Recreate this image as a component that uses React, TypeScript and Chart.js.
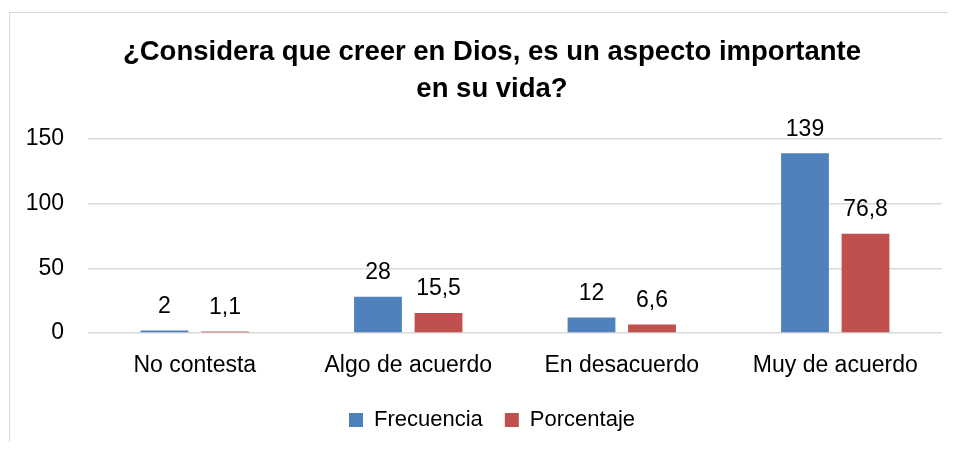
import React, { useEffect, useRef } from "react";
import { Chart, registerables } from "chart.js";

Chart.register(...registerables);

const titleLines = ["¿Considera que creer en Dios, es un aspecto importante", "en su vida?"];
const categories = ["No contesta", "Algo de acuerdo", "En desacuerdo", "Muy de acuerdo"];
const frecuencia = [2, 28, 12, 139];
const porcentaje = [1.1, 15.5, 6.6, 76.8];
const seriesNames = ["Frecuencia", "Porcentaje"];
const yMin = 0;
const yMax = 150;
const yStep = 50;

const BODY_FONT = '"Liberation Sans", Arial, sans-serif';
const TICK_SIZE = 23;

function textWidth(text: string, font: string) {
  const c = document.createElement("canvas").getContext("2d");
  if (!c) return 0;
  c.font = font;
  return c.measureText(text).width;
}

const valueLabels = {
  id: "valueLabels",
  afterDatasetsDraw(chart: any) {
    const ctx = chart.ctx;
    ctx.save();
    ctx.font = `${TICK_SIZE}px ${BODY_FONT}`;
    ctx.fillStyle = "#000";
    ctx.textAlign = "center";
    ctx.textBaseline = "alphabetic";
    chart.data.datasets.forEach((ds: any, i: number) => {
      const meta = chart.getDatasetMeta(i);
      meta.data.forEach((el: any, j: number) => {
        const v = ds.data[j];
        ctx.fillText(String(v).replace(".", ","), el.x, el.y - 17.5);
      });
    });
    ctx.restore();
  },
};

export default function App() {
  const ref = useRef<HTMLCanvasElement | null>(null);
  useEffect(() => {
    if (!ref.current) return;
    const yLabelFont = `normal normal ${TICK_SIZE}px ${BODY_FONT}`;
    const widestY = Math.max(
      ...[yMin, yMin + yStep, yMin + 2 * yStep, yMax].map((v) => textWidth(String(v), yLabelFont))
    );
    const chart = new Chart(ref.current, {
      type: "bar",
      data: {
        labels: categories,
        datasets: [
          {
            label: seriesNames[0],
            data: frecuencia,
            backgroundColor: "#4f81bd",
            categoryPercentage: 0.567,
            barPercentage: 0.79,
          },
          {
            label: seriesNames[1],
            data: porcentaje,
            backgroundColor: "#c0504d",
            categoryPercentage: 0.567,
            barPercentage: 0.79,
          },
        ],
      },
      options: {
        responsive: false,
        animation: false,
        layout: { padding: { left: 32, right: 13, top: 0, bottom: 5 } },
        plugins: {
          title: {
            display: true,
            text: titleLines,
            color: "#000",
            font: { family: BODY_FONT, size: 27.5, weight: "bold", lineHeight: 1.345 },
            padding: { top: 21, bottom: 31 },
          },
          legend: {
            display: true,
            position: "bottom",
            labels: {
              color: "#000",
              font: { family: BODY_FONT, size: 22 },
              boxWidth: 14,
              boxHeight: 14,
              padding: 22,
            },
          },
          tooltip: { enabled: false },
        },
        scales: {
          x: {
            grid: { display: false, drawTicks: false },
            border: { display: false },
            ticks: {
              color: "#000",
              font: { family: BODY_FONT, size: TICK_SIZE },
              padding: 19,
              maxRotation: 0,
              autoSkip: false,
            },
            afterFit(scale: any) {
              scale.height = 54;
            },
          },
          y: {
            min: yMin,
            max: yMax,
            grid: { color: "#d9d9d9", lineWidth: 1.5, drawTicks: false },
            border: { display: false },
            ticks: {
              stepSize: yStep,
              color: "#000",
              font: { family: BODY_FONT, size: TICK_SIZE },
              mirror: true,
              crossAlign: "far",
              padding: -24 - widestY,
            },
            afterFit(scale: any) {
              scale.width = 46;
            },
          },
        },
      },
      plugins: [valueLabels],
    });
    return () => chart.destroy();
  }, []);

  return (
    <div
      style={{
        position: "relative",
        left: 1,
        top: 4,
        width: 946,
        height: 434,
        boxSizing: "border-box",
        borderTop: "1px solid #d9d9d9",
        borderLeft: "1px solid #d9d9d9",
        overflow: "hidden",
        background: "#fff",
      }}
    >
      <canvas ref={ref} width={945} height={433} style={{ display: "block" }} />
    </div>
  );
}
